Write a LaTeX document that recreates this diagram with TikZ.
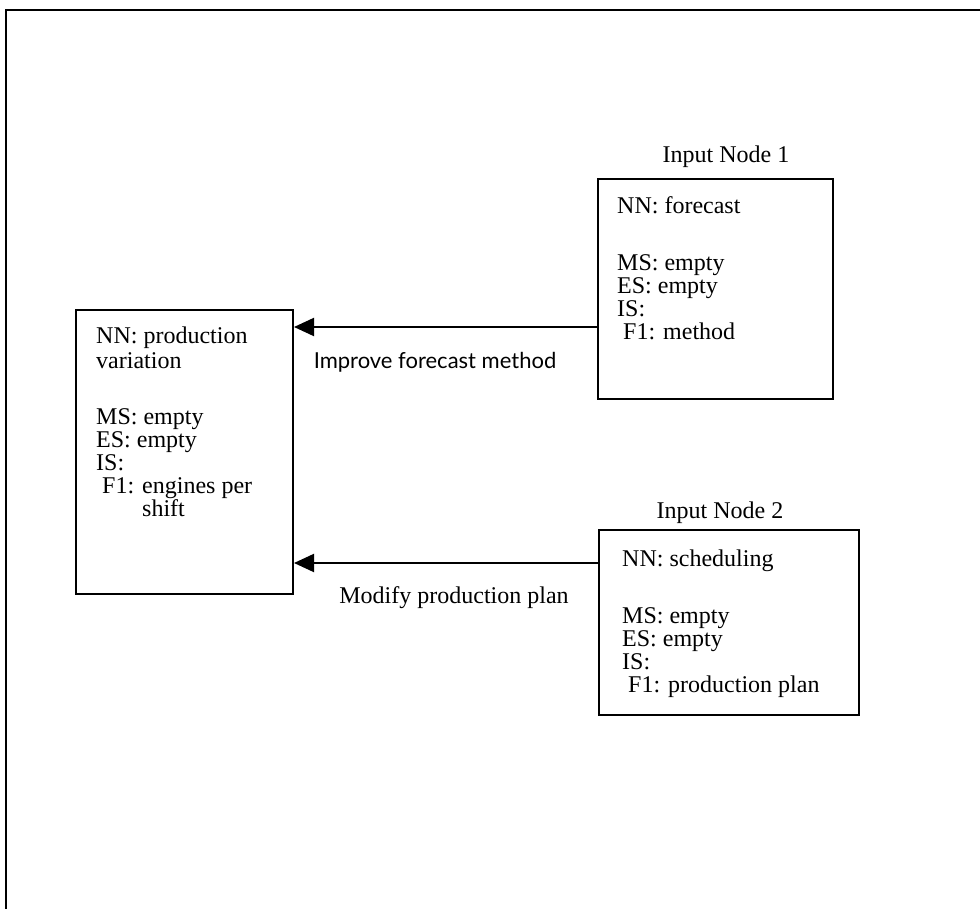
\documentclass[tikz,border=0pt]{standalone}
\usepackage{fontspec}
\setmainfont{Liberation Serif}
\newfontfamily\labelsans{Lato}
\usetikzlibrary{arrows.meta}
\begin{document}
\begin{tikzpicture}[x=1pt,y=-1pt,
  frame/.style={line width=2.6pt},
  boxframe/.style={draw,line width=2pt,inner sep=0pt,anchor=north west},
  % multi-line box text; the anchor sits on the baseline of the last line
  body/.style={font=\fontsize{24}{23}\selectfont,align=left,anchor=base west,inner sep=0pt},
  link/.style={line width=2pt,-{Triangle[length=20pt,width=18pt]}},
  caption/.style={font=\fontsize{24}{27}\selectfont,anchor=base,inner sep=0pt}]
\useasboundingbox (0,0) rectangle (980,909);
% outer frame, open at the right and bottom
\draw[frame] (980,10) -- (6,10) -- (6,909);

% the three node boxes
\node[boxframe,minimum width=217pt,minimum height=284pt] (pv) at (75,309) {};
\node[boxframe,minimum width=235pt,minimum height=220pt] (in1) at (597,178) {};
\node[boxframe,minimum width=260pt,minimum height=185pt] (in2) at (598,529) {};

% box contents
\node[body] (pvtext) at (96,516) {NN: production\\[2pt]variation\\[33pt]MS: empty\\ES: empty\\IS:\\\hspace*{6pt}F1: engines per\\\hspace*{46pt}shift};
\node[body] (in1text) at (617,339) {NN: forecast\\[34pt]MS: empty\\ES: empty\\IS:\\\hspace*{6pt}F1: method};
\node[body] (in2text) at (622,692) {NN: scheduling\\[34pt]MS: empty\\ES: empty\\IS:\\\hspace*{6pt}F1: production plan};

% titles above the input boxes
\node[caption] (t1) at (726,163) {Input Node 1};
\node[caption] (t2) at (720,518) {Input Node 2};

% connectors
\coordinate (y1) at (0,327);
\coordinate (y2) at (0,563);
\draw[link] (in1.west |- y1) -- (pv.east |- y1);
\draw[link] (in2.west |- y2) -- (pv.east |- y2);

% connector labels
\node[caption,font=\labelsans\fontsize{22}{26}\selectfont] (l1) at (435,368) {Improve forecast method};
\node[caption] (l2) at (454,603) {Modify production plan};
\end{tikzpicture}
\end{document}
